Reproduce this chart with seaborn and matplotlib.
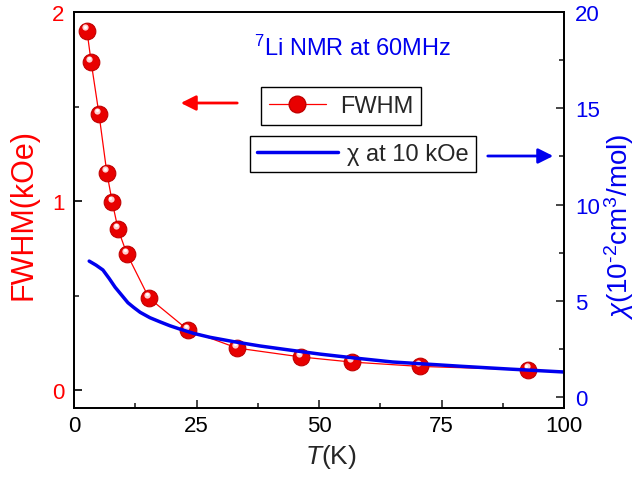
import matplotlib
matplotlib.use("Agg")
import matplotlib.pyplot as plt
import seaborn as sns
import numpy as np
import pandas as pd
from matplotlib.lines import Line2D
from matplotlib.ticker import MultipleLocator

# Data
T_fwhm = [2.65, 3.5, 5.1, 6.7, 7.8, 9.0, 10.8, 15.3, 23.3, 33.3, 46.3, 56.7, 70.6, 92.7]
fwhm = [1.90, 1.735, 1.46, 1.15, 0.995, 0.85, 0.72, 0.487, 0.317, 0.222, 0.175, 0.148, 0.125, 0.107]

T_chi = [3.1, 4.5, 5.9, 7.2, 8.4, 9.7, 11.0, 12.2, 13.5, 15.5, 17.6, 19.6, 21.6, 24.5, 27.8, 32.5, 38.0, 44.0, 50.2, 57.5, 65.0, 72.0, 78.8, 89.0, 100.0]
chi = [7.06, 6.85, 6.6, 6.15, 5.7, 5.3, 4.9, 4.65, 4.4, 4.12, 3.9, 3.7, 3.53, 3.3, 3.1, 2.88, 2.65, 2.44, 2.23, 2.02, 1.82, 1.71, 1.6, 1.45, 1.3]

sns.set_style("ticks")
plt.rcParams['font.family'] = ['Liberation Sans', 'DejaVu Sans']
plt.rcParams['mathtext.fontset'] = 'custom'
plt.rcParams['mathtext.rm'] = 'Liberation Sans'
plt.rcParams['mathtext.it'] = 'Liberation Sans:italic'

fig = plt.figure(figsize=(6.41, 4.85), dpi=100)
W, H = 641, 485
ax = fig.add_axes([74 / W, 1 - 409 / H, (564 - 74) / W, (409 - 13) / H])
ax2 = ax.twinx()

df1 = pd.DataFrame({"T": T_fwhm, "F": fwhm})
df2 = pd.DataFrame({"T": T_chi, "chi": chi})

sns.lineplot(data=df1, x="T", y="F", ax=ax, color="red", lw=0.9, marker="o",
             markersize=12, markerfacecolor="#e80000", markeredgecolor="#c00000",
             markeredgewidth=0.8, zorder=3)
# highlights for sphere look
ax.plot(np.array(T_fwhm) - 0.35, np.array(fwhm) + 0.018, ls="none", marker="o",
        markersize=4.5, markerfacecolor="#ffd0d0", markeredgewidth=0, zorder=4)
ax.plot(np.array(T_fwhm) - 0.45, np.array(fwhm) + 0.022, ls="none", marker="o",
        markersize=2.2, markerfacecolor="white", markeredgewidth=0, zorder=5)

sns.lineplot(data=df2, x="T", y="chi", ax=ax2, color="#0000ee", lw=2.5, zorder=2)

ax.set_xlim(0, 100)
ax.set_ylim(-0.095, 2.0)
ax2.set_ylim(-0.57, 20)

ax.xaxis.set_major_locator(MultipleLocator(25))
ax.xaxis.set_minor_locator(MultipleLocator(12.5))
ax.yaxis.set_major_locator(MultipleLocator(1))
ax.yaxis.set_minor_locator(MultipleLocator(0.5))
ax2.yaxis.set_major_locator(MultipleLocator(5))
ax2.yaxis.set_minor_locator(MultipleLocator(2.5))

ax.tick_params(axis="both", which="both", direction="in", width=1.2, labelsize=16)
ax.tick_params(which="major", length=6)
ax.tick_params(which="minor", length=3.5)
ax.tick_params(axis="y", colors="black", labelcolor="red", pad=7)
ax.tick_params(axis="x", top=False, labelcolor="black", pad=5)
ax2.tick_params(axis="y", which="both", direction="in", width=1.2, labelsize=16,
                labelcolor="#0000ee", pad=8)
ax2.tick_params(axis="y", which="major", length=6)
ax2.tick_params(axis="y", which="minor", length=3.5)

for a in (ax, ax2):
    for s in a.spines.values():
        s.set_linewidth(1.3)
        s.set_color("black")
        s.set_visible(True)

ax.set_xlabel("$\\it{T}$(K)", fontsize=19)
ax.xaxis.set_label_coords(0.524, -0.085)
ax.set_ylabel("FWHM(kOe)", fontsize=22, color="red")
ax.yaxis.set_label_coords(-0.073, 0.49)
ax2.set_ylabel("$\\it{\\chi}$(10$^{\\text{-}2}$cm$^{3}$/mol)", fontsize=20, color="#0000ee")
ax2.yaxis.set_label_coords(1.078, 0.46)

fig.text(353 / W, 1 - 48 / H, "$^{7}$Li NMR at 60MHz", color="#0000ee", fontsize=17,
         ha="center", va="center")

# Legends
h1 = Line2D([], [], color="red", lw=0.9, marker="o", markersize=12,
            markerfacecolor="#e80000", markeredgecolor="#c00000")
leg1 = fig.legend([h1], ["FWHM"], loc="center", bbox_to_anchor=(341 / W, 1 - 107 / H),
                  fontsize=17, frameon=True, fancybox=False, edgecolor="black",
                  framealpha=1, handlelength=2.4, borderpad=0.35, handletextpad=0.6)
leg1.get_frame().set_linewidth(1.0)
h2 = Line2D([], [], color="#0000ee", lw=2.5)
leg2 = fig.legend([h2], ["χ at 10 kOe"], loc="center", bbox_to_anchor=(363 / W, 1 - 155 / H),
                  fontsize=17, frameon=True, fancybox=False, edgecolor="black",
                  framealpha=1, handlelength=3.4, borderpad=0.3, handletextpad=0.4)
leg2.get_frame().set_linewidth(1.0)

# Arrows
fig.add_artist(matplotlib.patches.FancyArrowPatch(
    (240 / W, 1 - 104 / H), (178 / W, 1 - 104 / H), transform=fig.transFigure,
    arrowstyle="-|>,head_length=9,head_width=4.5", color="red", lw=2, mutation_scale=1))
fig.add_artist(matplotlib.patches.FancyArrowPatch(
    (485 / W, 1 - 157 / H), (556 / W, 1 - 157 / H), transform=fig.transFigure,
    arrowstyle="-|>,head_length=9,head_width=4.5", color="#0000ee", lw=2, mutation_scale=1))

fig.savefig("out.png", dpi=100)
